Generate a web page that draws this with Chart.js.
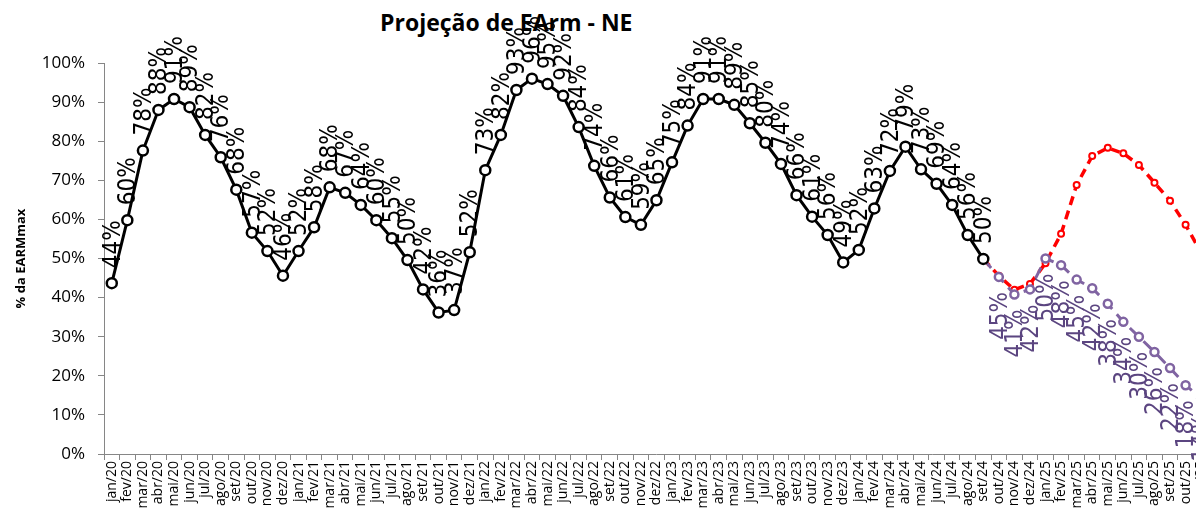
<!DOCTYPE html>
<html>
<head>
<meta charset="utf-8">
<script src="https://cdn.jsdelivr.net/npm/chart.js@4.4.1/dist/chart.umd.min.js"></script>
<style>
  html, body { margin: 0; padding: 0; background: #fff; overflow: hidden; }
  #wrap { position: relative; width: 1219px; height: 520px; }
  #title {
    position: absolute; left: 380px; top: 6px; z-index: 0;
    font: bold 23px 'Open Sans', sans-serif; color: #000; white-space: nowrap;
  }
  #chart { position: absolute; left: 0; top: 0; z-index: 1; }
</style>
</head>
<body>
<div id="wrap">
  <div id="title">Projeção de EArm - NE</div>
  <canvas id="chart" width="1219" height="520"></canvas>
</div>
<script>
const MONTHS = ['jan', 'fev', 'mar', 'abr', 'mai', 'jun', 'jul', 'ago', 'set', 'out', 'nov', 'dez'];
const YEARS = ['20', '21', '22', '23', '24', '25'];
const N_CATS = 71; // jan/20 .. nov/25 (chart is cut at the right edge)

// verified history (jan/20 .. set/24)
const historico = [
  43.7, 59.8, 77.6, 88.0, 90.8, 88.7, 81.6, 75.9, 67.6, 56.6, 51.9, 45.6,
  51.9, 58.0, 68.2, 66.8, 63.7, 59.8, 55.2, 49.6, 42.1, 36.2, 36.8, 51.6,
  72.6, 81.6, 93.1, 96.0, 94.6, 91.6, 83.6, 73.7, 65.6, 60.6, 58.6, 64.9,
  74.6, 84.0, 90.8, 90.8, 89.3, 84.6, 79.6, 74.2, 66.2, 60.7, 56.0, 49.0,
  52.2, 62.8, 72.4, 78.6, 72.8, 69.1, 63.7, 56.0, 49.9
];
// projections start at set/24 (index 56)
const PROJ_START = 56;
const projVermelha = [49.9, 45.6, 42.0, 43.5, 48.8, 56.3, 68.8, 76.2, 78.3, 76.9, 73.9, 69.4, 64.8, 58.6, 51.5];
const projRoxa = [49.9, 45.3, 40.8, 42.1, 50.0, 48.3, 44.6, 42.4, 38.4, 33.8, 30.0, 26.1, 22.0, 17.6, 14.2];
const yTicks = [0, 10, 20, 30, 40, 50, 60, 70, 80, 90, 100];

const categorias = [];
YEARS.forEach(y => MONTHS.forEach(m => categorias.push(m + '/' + y)));
categorias.length = N_CATS;

function pad(arr, start) {
  const out = new Array(N_CATS).fill(null);
  arr.forEach((v, i) => { if (start + i < N_CATS) out[start + i] = v; });
  return out;
}

const firstHidden = (ctx) => ctx.dataIndex === PROJ_START ? 0 : undefined;

// rotated value labels, like the spreadsheet ones
const pointLabels = {
  id: 'pointLabels',
  afterDatasetsDraw(chart) {
    const ctx = chart.ctx;
    chart.data.datasets.forEach((ds, i) => {
      if (!ds.labelPos) return;
      const meta = chart.getDatasetMeta(i);
      meta.data.forEach((pt, j) => {
        const v = ds.data[j];
        if (v == null || (ds.labelSkip || []).includes(j)) return;
        const above = ds.labelPos === 'above';
        ctx.save();
        ctx.translate(pt.x + 1.5, pt.y + (above ? -15 : 15));
        ctx.rotate(-Math.PI / 2);
        ctx.font = '24px "Liberation Sans Narrow", "DejaVu Sans Condensed", sans-serif';
        ctx.fillStyle = ds.labelColor;
        ctx.textAlign = above ? 'left' : 'right';
        ctx.textBaseline = 'middle';
        ctx.fillText(Math.round(v) + '%', 0, 0);
        ctx.restore();
      });
    });
  }
};

new Chart(document.getElementById('chart'), {
  type: 'line',
  data: {
    labels: categorias,
    datasets: [
      {
        label: 'Histórico',
        data: pad(historico, 0),
        borderColor: '#000',
        borderWidth: 3,
        pointRadius: 5,
        pointBorderWidth: 2.5,
        pointBackgroundColor: '#fff',
        pointBorderColor: '#000',
        tension: 0,
        labelPos: 'above',
        labelColor: '#000'
      },
      {
        label: 'Projeção 2',
        data: pad(projRoxa, PROJ_START),
        borderColor: '#8064a2',
        borderWidth: 3,
        borderDash: [12, 7],
        pointRadius: (c) => firstHidden(c) ?? 4,
        pointBorderWidth: 2.5,
        pointBackgroundColor: '#fff',
        pointBorderColor: '#8064a2',
        tension: 0,
        labelPos: 'below',
        labelColor: '#5b4580',
        labelSkip: [PROJ_START]
      },
      {
        label: 'Projeção 1',
        data: pad(projVermelha, PROJ_START),
        borderColor: '#ff0000',
        borderWidth: 3.5,
        borderDash: [9, 6],
        pointRadius: (c) => firstHidden(c) ?? 3,
        pointBorderWidth: 2,
        pointBackgroundColor: '#fff',
        pointBorderColor: '#ff0000',
        tension: 0
      }
    ]
  },
  options: {
    responsive: false,
    animation: false,
    devicePixelRatio: 1,
    layout: { padding: { top: 63, right: 2, left: 0, bottom: 0 } },
    plugins: {
      legend: { display: false },
      tooltip: { enabled: false }
    },
    scales: {
      x: {
        type: 'category',
        offset: true,
        afterFit: (s) => { s.height = 66; },
        border: { color: '#868686', width: 1 },
        grid: { offset: true, drawOnChartArea: false, drawTicks: true, tickLength: 6, color: '#868686' },
        ticks: {
          autoSkip: false, maxRotation: 90, minRotation: 90, padding: 1,
          color: '#000', font: { family: 'Open Sans', size: 14 }
        }
      },
      y: {
        min: 0,
        max: 100,
        afterFit: (s) => { s.width = 104; },
        afterBuildTicks: (s) => { s.ticks = yTicks.map(v => ({ value: v })); },
        border: { color: '#868686', width: 1 },
        grid: { drawOnChartArea: false, drawTicks: true, tickLength: 6, color: '#868686' },
        ticks: {
          padding: 13,
          color: '#000',
          font: { family: 'Open Sans', size: 17 },
          callback: (v) => v + '%'
        },
        title: {
          display: true,
          text: '% da EARMmax',
          color: '#000',
          font: { family: 'Open Sans', size: 13, weight: 'bold' },
          padding: { top: 13, bottom: 4 }
        }
      }
    }
  },
  plugins: [pointLabels]
});
</script>
</body>
</html>
